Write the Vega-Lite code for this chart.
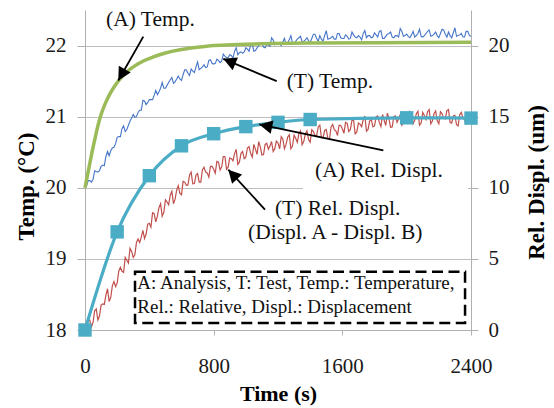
{
  "$schema": "https://vega.github.io/schema/vega-lite/v6.json",
  "width": 386,
  "height": 320,
  "autosize": {"type": "none"},
  "padding": {"left": 85, "top": 10, "right": 83, "bottom": 78},
  "background": "white",
  "config": {"view": {"stroke": null}, "font": "Liberation Serif"},
  "datasets": {
    "tT": [
      {"t":0,"v":20.00},{"t":20,"v":20.10},{"t":40,"v":20.08},{"t":60,"v":20.24},{"t":80,"v":20.22},{"t":100,"v":20.30},{"t":120,"v":20.31},{"t":140,"v":20.51},{"t":160,"v":20.52},{"t":180,"v":20.57},
      {"t":200,"v":20.71},{"t":220,"v":20.72},{"t":240,"v":20.87},{"t":260,"v":20.82},{"t":280,"v":20.94},{"t":300,"v":21.03},{"t":320,"v":21.00},{"t":340,"v":21.09},{"t":360,"v":21.23},{"t":380,"v":21.17},
      {"t":400,"v":21.24},{"t":420,"v":21.24},{"t":440,"v":21.37},{"t":460,"v":21.35},{"t":480,"v":21.48},{"t":500,"v":21.40},{"t":520,"v":21.48},{"t":540,"v":21.55},{"t":560,"v":21.49},{"t":580,"v":21.57},
      {"t":600,"v":21.51},{"t":620,"v":21.66},{"t":640,"v":21.61},{"t":660,"v":21.67},{"t":680,"v":21.62},{"t":700,"v":21.77},{"t":720,"v":21.68},{"t":740,"v":21.73},{"t":760,"v":21.70},{"t":780,"v":21.80},
      {"t":800,"v":21.74},{"t":820,"v":21.81},{"t":840,"v":21.76},{"t":860,"v":21.88},{"t":880,"v":21.83},{"t":900,"v":21.87},{"t":920,"v":21.82},{"t":940,"v":21.97},{"t":960,"v":21.90},{"t":980,"v":21.89},
      {"t":1000,"v":21.97},{"t":1020,"v":21.92},{"t":1040,"v":22.02},{"t":1060,"v":21.93},{"t":1080,"v":22.00},{"t":1100,"v":22.04},{"t":1120,"v":21.97},{"t":1140,"v":22.01},{"t":1160,"v":22.11},{"t":1180,"v":22.01},
      {"t":1200,"v":22.04},{"t":1220,"v":22.00},{"t":1240,"v":22.10},{"t":1260,"v":22.04},{"t":1280,"v":22.14},{"t":1300,"v":22.03},{"t":1320,"v":22.09},{"t":1340,"v":22.13},{"t":1360,"v":22.06},{"t":1380,"v":22.11},
      {"t":1400,"v":22.04},{"t":1420,"v":22.16},{"t":1440,"v":22.10},{"t":1460,"v":22.14},{"t":1480,"v":22.06},{"t":1500,"v":22.21},{"t":1520,"v":22.10},{"t":1540,"v":22.13},{"t":1560,"v":22.09},{"t":1580,"v":22.17},
      {"t":1600,"v":22.10},{"t":1620,"v":22.15},{"t":1640,"v":22.09},{"t":1660,"v":22.19},{"t":1680,"v":22.12},{"t":1700,"v":22.14},{"t":1720,"v":22.08},{"t":1740,"v":22.21},{"t":1760,"v":22.14},{"t":1780,"v":22.11},
      {"t":1800,"v":22.18},{"t":1820,"v":22.12},{"t":1840,"v":22.21},{"t":1860,"v":22.10},{"t":1880,"v":22.16},{"t":1900,"v":22.19},{"t":1920,"v":22.11},{"t":1940,"v":22.14},{"t":1960,"v":22.24},{"t":1980,"v":22.13},
      {"t":2000,"v":22.16},{"t":2020,"v":22.11},{"t":2040,"v":22.20},{"t":2060,"v":22.14},{"t":2080,"v":22.23},{"t":2100,"v":22.12},{"t":2120,"v":22.17},{"t":2140,"v":22.22},{"t":2160,"v":22.14},{"t":2180,"v":22.19},
      {"t":2200,"v":22.11},{"t":2220,"v":22.23},{"t":2240,"v":22.16},{"t":2260,"v":22.19},{"t":2280,"v":22.11},{"t":2300,"v":22.25},{"t":2320,"v":22.14},{"t":2340,"v":22.17},{"t":2360,"v":22.12},{"t":2380,"v":22.20},{"t":2400,"v":22.13},
      {"t":10,"v":20.03},{"t":30,"v":20.10},{"t":50,"v":20.12},{"t":70,"v":20.23},{"t":90,"v":20.24},{"t":110,"v":20.32},{"t":130,"v":20.44},{"t":150,"v":20.45},{"t":170,"v":20.56},{"t":190,"v":20.62},
      {"t":210,"v":20.72},{"t":230,"v":20.83},{"t":250,"v":20.79},{"t":270,"v":20.88},{"t":290,"v":20.98},{"t":310,"v":20.99},{"t":330,"v":21.06},{"t":350,"v":21.09},{"t":370,"v":21.22},{"t":390,"v":21.20},
      {"t":410,"v":21.24},{"t":430,"v":21.30},{"t":450,"v":21.31},{"t":470,"v":21.40},{"t":490,"v":21.40},{"t":510,"v":21.44},{"t":530,"v":21.52},{"t":550,"v":21.47},{"t":570,"v":21.53},{"t":590,"v":21.53},
      {"t":610,"v":21.59},{"t":630,"v":21.66},{"t":650,"v":21.58},{"t":670,"v":21.64},{"t":690,"v":21.70},{"t":710,"v":21.66},{"t":730,"v":21.70},{"t":750,"v":21.69},{"t":770,"v":21.79},{"t":790,"v":21.75},
      {"t":810,"v":21.75},{"t":830,"v":21.79},{"t":850,"v":21.78},{"t":870,"v":21.85},{"t":890,"v":21.83},{"t":910,"v":21.86},{"t":930,"v":21.92},{"t":950,"v":21.87},{"t":970,"v":21.91},{"t":990,"v":21.91},
      {"t":1010,"v":21.95},{"t":1030,"v":22.01},{"t":1050,"v":21.92},{"t":1070,"v":21.97},{"t":1090,"v":22.02},{"t":1110,"v":21.98},{"t":1130,"v":22.01},{"t":1150,"v":21.99},{"t":1170,"v":22.08},{"t":1190,"v":22.02},
      {"t":1210,"v":22.02},{"t":1230,"v":22.05},{"t":1250,"v":22.02},{"t":1270,"v":22.08},{"t":1290,"v":22.04},{"t":1310,"v":22.06},{"t":1330,"v":22.11},{"t":1350,"v":22.05},{"t":1370,"v":22.08},{"t":1390,"v":22.07},
      {"t":1410,"v":22.10},{"t":1430,"v":22.16},{"t":1450,"v":22.06},{"t":1470,"v":22.09},{"t":1490,"v":22.14},{"t":1510,"v":22.09},{"t":1530,"v":22.11},{"t":1550,"v":22.09},{"t":1570,"v":22.17},{"t":1590,"v":22.11},
      {"t":1610,"v":22.10},{"t":1630,"v":22.13},{"t":1650,"v":22.10},{"t":1670,"v":22.15},{"t":1690,"v":22.11},{"t":1710,"v":22.12},{"t":1730,"v":22.17},{"t":1750,"v":22.11},{"t":1770,"v":22.14},{"t":1790,"v":22.12},
      {"t":1810,"v":22.15},{"t":1830,"v":22.20},{"t":1850,"v":22.10},{"t":1870,"v":22.13},{"t":1890,"v":22.17},{"t":1910,"v":22.12},{"t":1930,"v":22.14},{"t":1950,"v":22.12},{"t":1970,"v":22.20},{"t":1990,"v":22.14},
      {"t":2010,"v":22.13},{"t":2030,"v":22.15},{"t":2050,"v":22.12},{"t":2070,"v":22.17},{"t":2090,"v":22.13},{"t":2110,"v":22.14},{"t":2130,"v":22.20},{"t":2150,"v":22.13},{"t":2170,"v":22.16},{"t":2190,"v":22.14},
      {"t":2210,"v":22.17},{"t":2230,"v":22.22},{"t":2250,"v":22.12},{"t":2270,"v":22.14},{"t":2290,"v":22.18},{"t":2310,"v":22.13},{"t":2330,"v":22.15},{"t":2350,"v":22.12},{"t":2370,"v":22.20},{"t":2390,"v":22.14}
    ],
    "aT": [
      {"t":0,"v":20.0},{"t":20,"v":20.23},{"t":40,"v":20.46},{"t":60,"v":20.67},{"t":80,"v":20.87},{"t":100,"v":21.03},{"t":125,"v":21.18},{"t":155,"v":21.32},{"t":185,"v":21.43},{"t":218,"v":21.53},
      {"t":260,"v":21.63},{"t":300,"v":21.70},{"t":360,"v":21.78},{"t":425,"v":21.84},{"t":500,"v":21.895},{"t":591,"v":21.94},{"t":700,"v":21.975},{"t":800,"v":22.0},{"t":950,"v":22.015},{"t":1100,"v":22.025},
      {"t":1400,"v":22.035},{"t":1800,"v":22.04},{"t":2400,"v":22.045}
    ],
    "tD": [
      {"t":0,"v":0.0},{"t":20,"v":0.65},{"t":40,"v":0.2},{"t":60,"v":1.35},{"t":80,"v":0.7},{"t":100,"v":1.75},{"t":120,"v":1.8},{"t":140,"v":2.9},{"t":160,"v":2.3},{"t":180,"v":3.4},
      {"t":200,"v":3.3},{"t":220,"v":4.4},{"t":240,"v":4.05},{"t":260,"v":4.9},{"t":280,"v":5.75},{"t":300,"v":5.1},{"t":320,"v":6.15},{"t":340,"v":6.15},{"t":360,"v":7.0},{"t":380,"v":6.75},
      {"t":400,"v":7.5},{"t":420,"v":8.25},{"t":440,"v":7.6},{"t":460,"v":8.6},{"t":480,"v":8.0},{"t":500,"v":9.15},{"t":520,"v":8.8},{"t":540,"v":9.75},{"t":560,"v":9.2},{"t":580,"v":10.15},
      {"t":600,"v":9.5},{"t":620,"v":10.4},{"t":640,"v":10.2},{"t":660,"v":11.1},{"t":680,"v":10.3},{"t":700,"v":11.0},{"t":720,"v":10.4},{"t":740,"v":11.45},{"t":760,"v":11.05},{"t":780,"v":11.5},
      {"t":800,"v":11.3},{"t":820,"v":11.85},{"t":840,"v":11.25},{"t":860,"v":12.2},{"t":880,"v":11.3},{"t":900,"v":12.1},{"t":920,"v":11.9},{"t":940,"v":12.7},{"t":960,"v":11.8},{"t":980,"v":12.55},
      {"t":1000,"v":12.15},{"t":1020,"v":12.9},{"t":1040,"v":12.15},{"t":1060,"v":12.7},{"t":1080,"v":13.25},{"t":1100,"v":12.3},{"t":1120,"v":13.05},{"t":1140,"v":12.7},{"t":1160,"v":13.25},{"t":1180,"v":12.75},
      {"t":1200,"v":13.15},{"t":1220,"v":13.6},{"t":1240,"v":12.75},{"t":1260,"v":13.55},{"t":1280,"v":12.75},{"t":1300,"v":13.7},{"t":1320,"v":13.2},{"t":1340,"v":14.0},{"t":1360,"v":13.25},{"t":1380,"v":14.0},
      {"t":1400,"v":13.2},{"t":1420,"v":13.95},{"t":1440,"v":13.65},{"t":1460,"v":14.4},{"t":1480,"v":13.5},{"t":1500,"v":14.1},{"t":1520,"v":13.45},{"t":1540,"v":14.45},{"t":1560,"v":14.0},{"t":1580,"v":14.4},
      {"t":1600,"v":14.15},{"t":1620,"v":14.6},{"t":1640,"v":13.95},{"t":1660,"v":14.75},{"t":1680,"v":13.8},{"t":1700,"v":14.55},{"t":1720,"v":14.3},{"t":1740,"v":15.05},{"t":1760,"v":14.1},{"t":1780,"v":14.8},
      {"t":1800,"v":14.35},{"t":1820,"v":15.05},{"t":1840,"v":14.3},{"t":1860,"v":14.75},{"t":1880,"v":15.25},{"t":1900,"v":14.25},{"t":1920,"v":15.0},{"t":1940,"v":14.6},{"t":1960,"v":15.15},{"t":1980,"v":14.55},
      {"t":2000,"v":14.95},{"t":2020,"v":15.35},{"t":2040,"v":14.5},{"t":2060,"v":15.2},{"t":2080,"v":14.4},{"t":2100,"v":15.3},{"t":2120,"v":14.8},{"t":2140,"v":15.5},{"t":2160,"v":14.7},{"t":2180,"v":15.4},
      {"t":2200,"v":14.5},{"t":2220,"v":15.2},{"t":2240,"v":14.85},{"t":2260,"v":15.5},{"t":2280,"v":14.55},{"t":2300,"v":15.1},{"t":2320,"v":14.35},{"t":2340,"v":15.3},{"t":2360,"v":14.8},{"t":2380,"v":15.1},
      {"t":10,"v":0.1},{"t":30,"v":0.68},{"t":50,"v":0.53},{"t":70,"v":1.48},{"t":90,"v":0.98},{"t":110,"v":1.83},{"t":130,"v":2.45},{"t":150,"v":2.0},{"t":170,"v":3.1},{"t":190,"v":3.05},
      {"t":210,"v":4.13},{"t":230,"v":4.13},{"t":250,"v":5.1},{"t":270,"v":4.7},{"t":290,"v":5.53},{"t":310,"v":5.28},{"t":330,"v":6.4},{"t":350,"v":6.53},{"t":370,"v":6.43},{"t":390,"v":7.45},
      {"t":410,"v":7.23},{"t":430,"v":8.18},{"t":450,"v":8.0},{"t":470,"v":8.88},{"t":490,"v":8.28},{"t":510,"v":9.0},{"t":530,"v":9.48},{"t":550,"v":8.88},{"t":570,"v":9.83},{"t":590,"v":9.6},
      {"t":610,"v":10.45},{"t":630,"v":10.18},{"t":650,"v":10.9},{"t":670,"v":10.28},{"t":690,"v":10.88},{"t":710,"v":10.4},{"t":730,"v":11.25},{"t":750,"v":11.1},{"t":770,"v":10.75},{"t":790,"v":11.5},
      {"t":810,"v":11.03},{"t":830,"v":11.8},{"t":850,"v":11.48},{"t":870,"v":12.2},{"t":890,"v":11.45},{"t":910,"v":12.05},{"t":930,"v":12.4},{"t":950,"v":11.65},{"t":970,"v":12.43},{"t":990,"v":12.05},
      {"t":1010,"v":12.8},{"t":1030,"v":12.43},{"t":1050,"v":13.05},{"t":1070,"v":12.35},{"t":1090,"v":12.88},{"t":1110,"v":12.33},{"t":1130,"v":13.13},{"t":1150,"v":12.93},{"t":1170,"v":12.55},{"t":1190,"v":13.28},
      {"t":1210,"v":12.73},{"t":1230,"v":13.43},{"t":1250,"v":13.05},{"t":1270,"v":13.73},{"t":1290,"v":12.93},{"t":1310,"v":13.48},{"t":1330,"v":13.8},{"t":1350,"v":13.03},{"t":1370,"v":13.78},{"t":1390,"v":13.38},
      {"t":1410,"v":14.08},{"t":1430,"v":13.68},{"t":1450,"v":14.28},{"t":1470,"v":13.53},{"t":1490,"v":14.03},{"t":1510,"v":13.48},{"t":1530,"v":14.28},{"t":1550,"v":14.08},{"t":1570,"v":13.68},{"t":1590,"v":14.38},
      {"t":1610,"v":13.83},{"t":1630,"v":14.53},{"t":1650,"v":14.1},{"t":1670,"v":14.73},{"t":1690,"v":13.93},{"t":1710,"v":14.48},{"t":1730,"v":14.78},{"t":1750,"v":13.98},{"t":1770,"v":14.7},{"t":1790,"v":14.28},
      {"t":1810,"v":14.98},{"t":1830,"v":14.58},{"t":1850,"v":15.15},{"t":1870,"v":14.38},{"t":1890,"v":14.85},{"t":1910,"v":14.28},{"t":1930,"v":15.05},{"t":1950,"v":14.83},{"t":1970,"v":14.4},{"t":1990,"v":15.08},
      {"t":2010,"v":14.5},{"t":2030,"v":15.18},{"t":2050,"v":14.75},{"t":2070,"v":15.38},{"t":2090,"v":14.55},{"t":2110,"v":15.08},{"t":2130,"v":15.35},{"t":2150,"v":14.5},{"t":2170,"v":15.2},{"t":2190,"v":14.73},
      {"t":2210,"v":15.35},{"t":2230,"v":14.9},{"t":2250,"v":15.43},{"t":2270,"v":14.6},{"t":2290,"v":15.05},{"t":2310,"v":14.43},{"t":2330,"v":15.15},{"t":2350,"v":14.9},{"t":2370,"v":14.43}
    ],
    "aD": [
      {"t":0,"v":0},{"t":200,"v":6.9},{"t":400,"v":10.85},{"t":600,"v":12.95},{"t":800,"v":13.8},{"t":1000,"v":14.3},{"t":1200,"v":14.6},{"t":1400,"v":14.8},{"t":2000,"v":14.92},{"t":2400,"v":14.9}
    ],
    "notes": [
      {"label":"(A) Temp.","t":130.6,"v":22.281},
      {"label":"(T) Temp.","t":1254,"v":21.406},
      {"label":"(A) Rel. Displ.","t":1430,"v":20.152},
      {"label":"(T) Rel. Displ.","t":1181,"v":19.614},
      {"label":"(Displ. A - Displ. B)","t":1013.5,"v":19.273}
    ],
    "boxnotes": [
      {"label":"A: Analysis, T: Test, Temp.: Temperature,","t":325,"v":18.571},
      {"label":"Rel.: Relative, Displ.: Displacement","t":325,"v":18.243}
    ],
    "arrows": [
      {"t":362.5,"v":22.126,"t2":207,"v2":21.509},
      {"t":1192,"v":21.499,"t2":860,"v2":21.813},
      {"t":1855,"v":20.526,"t2":1084,"v2":20.891},
      {"t":1119,"v":19.694,"t2":891,"v2":20.255}
    ]
  },
  "layer": [
    {
      "data": {"name": "tT"},
      "mark": {"type": "line", "color": "#4675C8", "strokeWidth": 1.1},
      "encoding": {
        "x": {"field": "t", "type": "quantitative", "scale": {"domain": [0, 2400], "nice": false, "zero": false},
          "axis": {"title": "Time (s)", "values": [0, 800, 1600, 2400], "format": "d", "grid": false,
            "domainColor": "#B0B0B0", "tickColor": "#B0B0B0", "tickSize": 5,
            "labelFont": "Liberation Serif", "labelFontSize": 21, "labelColor": "#1a1a1a", "labelPadding": 20,
            "labelFlush": false, "labelOverlap": false,
            "titleFont": "Liberation Serif", "titleFontSize": 22, "titleFontWeight": "bold", "titleColor": "#000",
            "titleX": 193, "titleY": 70, "titleBaseline": "alphabetic", "titleAlign": "center"}},
        "y": {"field": "v", "type": "quantitative", "scale": {"domain": [18, 22.5], "nice": false, "zero": false},
          "axis": {"orient": "left", "title": "Temp. (°C)", "values": [18, 19, 20, 21, 22], "grid": true,
            "gridColor": "#BDBDBD", "gridWidth": 1,
            "domainColor": "#B0B0B0", "tickColor": "#B0B0B0", "tickSize": 8,
            "labelFont": "Liberation Serif", "labelFontSize": 21, "labelColor": "#1a1a1a", "labelPadding": 11,
            "labelOverlap": false,
            "titleFont": "Liberation Serif", "titleFontSize": 23, "titleFontWeight": "bold", "titleColor": "#000",
            "titleAngle": 270, "titleX": -52, "titleY": 176, "titleBaseline": "alphabetic", "titleAlign": "center"}}
      }
    },
    {
      "data": {"name": "aT"},
      "mark": {"type": "line", "color": "#9BBB59", "strokeWidth": 3.5, "interpolate": "monotone"},
      "encoding": {
        "x": {"field": "t", "type": "quantitative", "scale": {"domain": [0, 2400], "nice": false, "zero": false}},
        "y": {"field": "v", "type": "quantitative", "scale": {"domain": [18, 22.5], "nice": false, "zero": false}, "axis": null}
      }
    },
    {
      "data": {"name": "tD"},
      "mark": {"type": "line", "color": "#C0504D", "strokeWidth": 1.2},
      "encoding": {
        "x": {"field": "t", "type": "quantitative", "scale": {"domain": [0, 2400], "nice": false, "zero": false}},
        "y": {"field": "v", "type": "quantitative", "scale": {"domain": [0, 22.5], "nice": false, "zero": false},
          "axis": {"orient": "right", "title": "Rel. Displ. (um)", "values": [0, 5, 10, 15, 20], "grid": false,
            "domainColor": "#B0B0B0", "tickColor": "#B0B0B0", "tickSize": 7,
            "labelFont": "Liberation Serif", "labelFontSize": 21, "labelColor": "#1a1a1a", "labelPadding": 10,
            "labelOverlap": false,
            "titleFont": "Liberation Serif", "titleFontSize": 23, "titleFontWeight": "bold", "titleColor": "#000",
            "titleAngle": 270, "titleX": 72, "titleY": 172, "titleBaseline": "alphabetic", "titleAlign": "center"}}
      }
    },
    {
      "data": {"name": "aD"},
      "mark": {"type": "line", "color": "#4BACC6", "strokeWidth": 3.2, "interpolate": "monotone"},
      "encoding": {
        "x": {"field": "t", "type": "quantitative", "scale": {"domain": [0, 2400], "nice": false, "zero": false}},
        "y": {"field": "v", "type": "quantitative", "scale": {"domain": [0, 22.5], "nice": false, "zero": false}, "axis": null}}
    },
    {
      "data": {"name": "aD"},
      "mark": {"type": "point", "shape": "square", "filled": true, "size": 180, "color": "#4BACC6", "opacity": 1},
      "encoding": {
        "x": {"field": "t", "type": "quantitative", "scale": {"domain": [0, 2400], "nice": false, "zero": false}},
        "y": {"field": "v", "type": "quantitative", "scale": {"domain": [0, 22.5], "nice": false, "zero": false}, "axis": null}}
    },
    {
      "data": {"values": [{"t": 1355, "t2": 2381, "v": 20.43, "v2": 19.96}]},
      "mark": {"type": "rect", "fill": "white"},
      "encoding": {
        "x": {"field": "t", "type": "quantitative", "scale": {"domain": [0, 2400], "nice": false, "zero": false}},
        "y": {"field": "v", "type": "quantitative", "scale": {"domain": [18, 22.5], "nice": false, "zero": false}, "axis": null},
        "x2": {"field": "t2"}, "y2": {"field": "v2"}}
    },
    {
      "data": {"values": [{"t": 311, "t2": 2363, "v": 18.10, "v2": 18.82}]},
      "mark": {"type": "rect", "fill": "white", "stroke": "#000", "strokeWidth": 2.5, "strokeDash": [11, 5.5]},
      "encoding": {
        "x": {"field": "t", "type": "quantitative", "scale": {"domain": [0, 2400], "nice": false, "zero": false}},
        "y": {"field": "v", "type": "quantitative", "scale": {"domain": [18, 22.5], "nice": false, "zero": false}, "axis": null},
        "x2": {"field": "t2"}, "y2": {"field": "v2"}}
    },
    {
      "data": {"name": "boxnotes"},
      "mark": {"type": "text", "align": "left", "baseline": "alphabetic", "font": "Liberation Serif", "fontSize": 19, "color": "#111"},
      "encoding": {
        "x": {"field": "t", "type": "quantitative", "scale": {"domain": [0, 2400], "nice": false, "zero": false}},
        "y": {"field": "v", "type": "quantitative", "scale": {"domain": [18, 22.5], "nice": false, "zero": false}, "axis": null},
        "text": {"field": "label"}}
    },
    {
      "data": {"name": "notes"},
      "mark": {"type": "text", "align": "left", "baseline": "alphabetic", "font": "Liberation Serif", "fontSize": 21.5, "color": "#111"},
      "encoding": {
        "x": {"field": "t", "type": "quantitative", "scale": {"domain": [0, 2400], "nice": false, "zero": false}},
        "y": {"field": "v", "type": "quantitative", "scale": {"domain": [18, 22.5], "nice": false, "zero": false}, "axis": null},
        "text": {"field": "label"}}
    },
    {
      "data": {"name": "arrows"},
      "mark": {"type": "rule", "color": "#000", "strokeWidth": 1.8},
      "encoding": {
        "x": {"field": "t", "type": "quantitative", "scale": {"domain": [0, 2400], "nice": false, "zero": false}},
        "y": {"field": "v", "type": "quantitative", "scale": {"domain": [18, 22.5], "nice": false, "zero": false}, "axis": null},
        "x2": {"field": "t2"}, "y2": {"field": "v2"}}
    },
    {
      "data": {"values": [{"t": 207, "v": 21.509}]},
      "mark": {"type": "point", "shape": "M0,0L-1.05,2L1.05,2Z", "size": 169, "filled": true, "color": "#000", "opacity": 1, "strokeWidth": 0, "angle": 209.6},
      "encoding": {
        "x": {"field": "t", "type": "quantitative", "scale": {"domain": [0, 2400], "nice": false, "zero": false}},
        "y": {"field": "v", "type": "quantitative", "scale": {"domain": [18, 22.5], "nice": false, "zero": false}, "axis": null}}
    },
    {
      "data": {"values": [{"t": 860, "v": 21.813}]},
      "mark": {"type": "point", "shape": "M0,0L-1.05,2L1.05,2Z", "size": 169, "filled": true, "color": "#000", "opacity": 1, "strokeWidth": 0, "angle": 292.8},
      "encoding": {
        "x": {"field": "t", "type": "quantitative", "scale": {"domain": [0, 2400], "nice": false, "zero": false}},
        "y": {"field": "v", "type": "quantitative", "scale": {"domain": [18, 22.5], "nice": false, "zero": false}, "axis": null}}
    },
    {
      "data": {"values": [{"t": 1084, "v": 20.891}]},
      "mark": {"type": "point", "shape": "M0,0L-1.05,2L1.05,2Z", "size": 169, "filled": true, "color": "#000", "opacity": 1, "strokeWidth": 0, "angle": 281.8},
      "encoding": {
        "x": {"field": "t", "type": "quantitative", "scale": {"domain": [0, 2400], "nice": false, "zero": false}},
        "y": {"field": "v", "type": "quantitative", "scale": {"domain": [18, 22.5], "nice": false, "zero": false}, "axis": null}}
    },
    {
      "data": {"values": [{"t": 891, "v": 20.255}]},
      "mark": {"type": "point", "shape": "M0,0L-1.05,2L1.05,2Z", "size": 169, "filled": true, "color": "#000", "opacity": 1, "strokeWidth": 0, "angle": 317.5},
      "encoding": {
        "x": {"field": "t", "type": "quantitative", "scale": {"domain": [0, 2400], "nice": false, "zero": false}},
        "y": {"field": "v", "type": "quantitative", "scale": {"domain": [18, 22.5], "nice": false, "zero": false}, "axis": null}}
    }
  ],
  "resolve": {"scale": {"y": "independent"}}
}
